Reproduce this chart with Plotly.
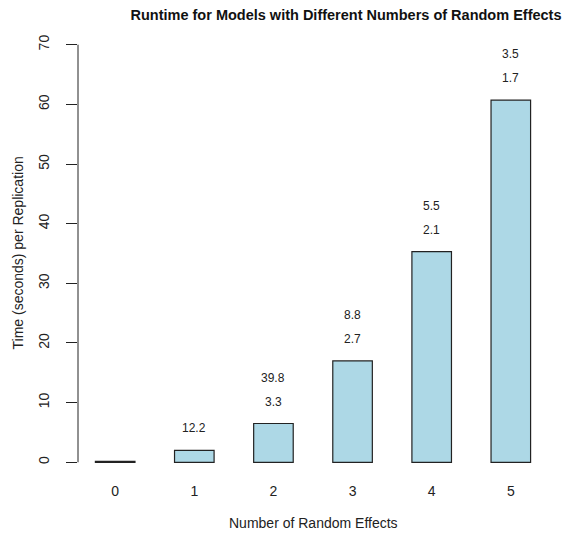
import plotly.graph_objects as go

# Data
n_effects = [0, 1, 2, 3, 4, 5]
runtime = [0.16, 2.0, 6.5, 17.0, 35.3, 60.7]
ratio_prev = ["", "12.2", "3.3", "2.7", "2.1", "1.7"]
ratio_prev2 = ["", "", "39.8", "8.8", "5.5", "3.5"]
y_ticks = [0, 10, 20, 30, 40, 50, 60, 70]

FONT = "Liberation Sans, Arial"
W, H = 566, 529

fig = go.Figure()
fig.add_trace(go.Bar(
    x=n_effects, y=runtime, width=0.5,
    marker=dict(color="#ADD8E6", line=dict(color="#222222", width=1.2)),
    hoverinfo="x+y",
))

anns = []
for xv, yv, lo, hi in zip(n_effects, runtime, ratio_prev, ratio_prev2):
    if lo:
        anns.append(dict(x=xv, y=yv, xref="x", yref="y", text=lo, showarrow=False,
                         yanchor="middle", yshift=22,
                         font=dict(family=FONT, size=12, color="#222")))
    if hi:
        anns.append(dict(x=xv, y=yv, xref="x", yref="y", text=hi, showarrow=False,
                         yanchor="middle", yshift=46,
                         font=dict(family=FONT, size=12, color="#222")))

# axis titles
anns.append(dict(x=0.5, y=0, xref="paper", yref="paper", yanchor="middle", yshift=-44,
                 text="Number of Random Effects", showarrow=False,
                 font=dict(family=FONT, size=14, color="#222")))
anns.append(dict(x=0, y=0.5, xref="paper", yref="paper", xanchor="center", xshift=-61,
                 text="Time (seconds) per Replication", showarrow=False, textangle=-90,
                 font=dict(family=FONT, size=14, color="#222")))

fig.update_layout(
    width=W, height=H,
    margin=dict(l=70, r=26, t=20, b=58),
    paper_bgcolor="white", plot_bgcolor="white",
    showlegend=False,
    bargap=0.5,
    title=dict(text="<b>Runtime for Models with Different Numbers of Random Effects</b>",
               x=338/W, xanchor="center", xref="container",
               y=1 - 7/H, yanchor="middle", yref="container",
               font=dict(family=FONT, size=14.5, color="#111")),
    annotations=anns,
    xaxis=dict(range=[-0.47, 5.47], tickmode="array", tickvals=n_effects,
               ticktext=[str(v) for v in n_effects], showline=False, showgrid=False,
               zeroline=False, ticks="", ticklabelstandoff=2,
               tickfont=dict(family=FONT, size=14, color="#222")),
    yaxis=dict(range=[-2.8, 72.8], tickmode="array", tickvals=y_ticks,
               showline=False, showgrid=False, zeroline=False,
               ticks="outside", ticklen=11, tickwidth=1, tickcolor="#222",
               tickangle=-90, ticklabelstandoff=11,
               tickfont=dict(family=FONT, size=14, color="#222")),
    shapes=[dict(type="line", xref="paper", yref="y", x0=0, x1=0,
                 y0=y_ticks[0], y1=y_ticks[-1], line=dict(color="#222", width=1))],
)

fig.write_html("out.html")
